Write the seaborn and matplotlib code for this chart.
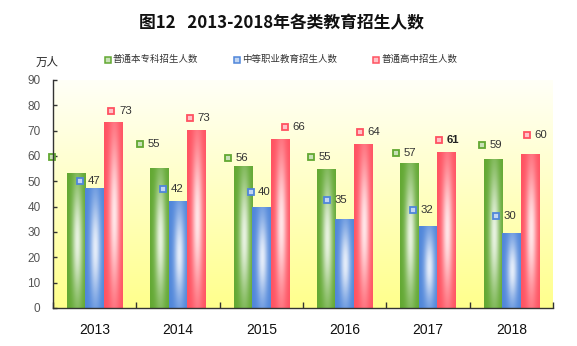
import numpy as np
import pandas as pd
import matplotlib
matplotlib.use('Agg')
import matplotlib.pyplot as plt
from matplotlib.lines import Line2D
import matplotlib.colors as mcolors
import seaborn as sns

# ---------------- data ----------------
years = ['2013', '2014', '2015', '2016', '2017', '2018']
series = ['普通本专科招生人数', '中等职业教育招生人数', '普通高中招生人数']

undergrad = [53.2, 55.2, 56.2, 54.9, 57.4, 59.0]
vocational = [47.3, 42.3, 39.8, 35.2, 32.3, 29.8]
highschool = [73.4, 70.2, 66.7, 64.7, 61.4, 60.6]

undergrad_labels = ['53', '55', '56', '55', '57', '59']
vocational_labels = ['47', '42', '40', '35', '32', '30']
highschool_labels = ['73', '73', '66', '64', '61', '60']

# where the source chart put its value markers
undergrad_mark_y = [59.5, 64.7, 59.4, 59.7, 61.1, 64.3]
vocational_mark_y = [50.3, 47.0, 45.8, 42.7, 38.6, 36.5]
highschool_mark_y = [77.9, 75.0, 71.3, 69.3, 66.3, 68.1]
undergrad_mark_dx = [-0.51, -0.46, -0.40, -0.40, -0.38, -0.35]
vocational_mark_dx = [-0.18, -0.18, -0.13, -0.21, -0.18, -0.18]
highschool_mark_dx = [0.20, 0.14, 0.28, 0.18, 0.13, 0.19]

yticks = [0, 10, 20, 30, 40, 50, 60, 70, 80, 90]
colors = ['#62A832', '#4F86DA', '#FF5261']
title = '图12   2013-2018年各类教育招生人数'
unit = '万人'

# ---------------- style ----------------
sns.set_style('ticks')
plt.rcParams['font.family'] = ['Liberation Sans', 'Noto Sans CJK SC', 'DejaVu Sans']
CJK = ['Noto Sans CJK SC', 'DejaVu Sans']

df = pd.DataFrame({
    'year': years * 3,
    'series': [series[0]] * 6 + [series[1]] * 6 + [series[2]] * 6,
    'value': undergrad + vocational + highschool,
})

fig = plt.figure(figsize=(5.77, 3.46), dpi=100)
ax = fig.add_axes([53 / 577, 1 - 308 / 346, 500 / 577, 228 / 346])

# plot background gradient (white top -> yellow bottom)
bg = np.linspace(0, 1, 200)[:, None]
top = np.array([1.0, 1.0, 0.97])
bot = np.array([1.0, 1.0, 0.55])
bgimg = (top[None, None, :] * (1 - bg[..., None]) + bot[None, None, :] * bg[..., None])
ax.imshow(np.repeat(bgimg, 2, axis=1), extent=[0, 1, 0, 1], transform=ax.transAxes,
          aspect='auto', zorder=0, origin='upper')

sns.barplot(data=df, x='year', y='value', hue='series', palette=colors,
            width=0.665, saturation=1, legend=False, ax=ax, zorder=2)

# cylinder-like shading on each bar
nx, ny = 40, 120
U, V = np.meshgrid(np.linspace(0, 1, nx), np.linspace(0, 1, ny))
w = 0.85 * np.exp(-((U - 0.55) / 0.28) ** 2) * np.exp(-((V - 0.5) / 0.42) ** 2)
for p in list(ax.patches):
    x0, y0 = p.get_x(), p.get_y()
    bw, bh = p.get_width(), p.get_height()
    if bh <= 0:
        continue
    base = np.array(mcolors.to_rgb(p.get_facecolor()))
    img = base[None, None, :] * (1 - w[..., None]) + np.ones(3)[None, None, :] * w[..., None]
    im = ax.imshow(img, extent=[x0, x0 + bw, y0, y0 + bh], origin='lower',
                   aspect='auto', zorder=2.5, interpolation='bilinear')
    im.set_clip_path(p)
    p.set_edgecolor('none')

# value markers + labels
mark_sets = [
    (undergrad_mark_dx, undergrad_mark_y, undergrad_labels, colors[0]),
    (vocational_mark_dx, vocational_mark_y, vocational_labels, colors[1]),
    (highschool_mark_dx, highschool_mark_y, highschool_labels, colors[2]),
]
for si, (dx, my, labs, c) in enumerate(mark_sets):
    xs = np.arange(len(years)) + np.array(dx)
    light = 0.35 * np.array(mcolors.to_rgb(c)) + 0.65
    ax.plot(xs, my, ls='none', marker='s', ms=4.3, mfc=light, mec=c, mew=1.3,
            zorder=4, clip_on=False)
    for i, (x, y, t) in enumerate(zip(xs, my, labs)):
        bold = (si == 2 and i == 4)
        ax.annotate(t, (x, y), xytext=(5.5, 0), textcoords='offset points',
                    ha='left', va='center', fontsize=8.2, color='#222222' if bold else '#333333',
                    fontweight='bold' if bold else 'normal', zorder=5)

ax.set_xlim(-0.5, len(years) - 0.5)
ax.set_ylim(0, 90)
ax.set_yticks(yticks)
ax.set_yticklabels([str(t) for t in yticks])
ax.set_xlabel('')
ax.set_ylabel('')
ax.set_aspect('auto')

for s in ['top', 'right']:
    ax.spines[s].set_visible(False)
for s in ['left', 'bottom']:
    ax.spines[s].set_color('#333333')
    ax.spines[s].set_linewidth(1.0)
    ax.spines[s].set_zorder(6)

ax.tick_params(axis='y', direction='in', length=3, width=1, color='#333333',
               pad=9, labelsize=8.5, labelcolor='#555555')
ax.set_xticks(np.arange(len(years)))
ax.set_xticklabels(years)
ax.set_xticks(np.arange(len(years) + 1) - 0.5, minor=True)
ax.tick_params(axis='x', which='major', length=0, pad=11, labelsize=10, labelcolor='#111111')
ax.tick_params(axis='x', which='minor', direction='in', length=4, width=1, color='#333333')

# title and unit
fig.text(281 / 577, 1 - 23 / 346, title, ha='center', va='center', fontsize=12.1,
         fontweight='bold', family=CJK, color='#111111')
fig.text(46.7 / 577, 1 - 62 / 346, unit, ha='center', va='center', fontsize=8.3,
         family=CJK, color='#222222')

# legend
leg_x = [107.7, 237.0, 376.0]
leg_y = 1 - 59.5 / 346
for lx, name, c in zip(leg_x, series, colors):
    light = 0.35 * np.array(mcolors.to_rgb(c)) + 0.65
    fig.add_artist(Line2D([lx / 577], [leg_y], ls='none', marker='s', ms=3.8,
                          mfc=light, mec=c, mew=1.1, transform=fig.transFigure))
    fig.text((lx + 5) / 577, leg_y, name, ha='left', va='center', fontsize=6.8,
             family=CJK, color='#333333')

fig.savefig('out.png', dpi=100)
